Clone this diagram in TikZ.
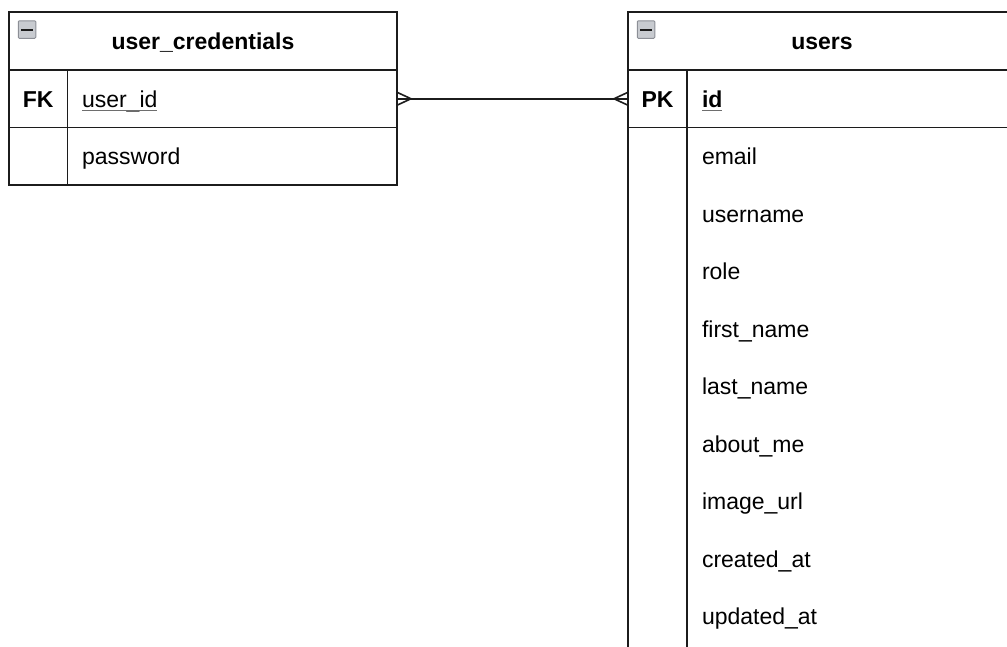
\documentclass[tikz,border=0pt]{standalone}
\usepackage{fontspec}
\setmainfont{Liberation Sans}
\definecolor{ink}{RGB}{28,28,28}
\definecolor{ulgray}{RGB}{110,110,110}
\definecolor{iconfill}{RGB}{200,203,208}
\definecolor{iconedge}{RGB}{140,143,150}
\begin{document}
\begin{tikzpicture}[x=1pt,y=1pt,
  box/.style={draw=ink, line width=1.7pt, rectangle, inner sep=0pt, outer sep=0pt,
              minimum width=388pt, anchor=north west},
  txt/.style={inner sep=0pt, outer sep=0pt, text height=16.7pt, text depth=0pt,
              font=\fontsize{23}{27}\selectfont, text=black},
  keytxt/.style={txt, font=\fontsize{23}{27}\selectfont\bfseries},
  titletxt/.style={txt, font=\fontsize{23}{27}\selectfont\bfseries},
  fieldtxt/.style={txt, anchor=west},
  divider/.style={draw=ink, line width=1.7pt},
  conn/.style={draw=ink, line width=1.6pt},
  ul/.style={draw=ulgray, line width=1.1pt},
  icon/.style={rectangle, draw=iconedge, fill=iconfill, line width=1pt,
               minimum size=17.5pt, inner sep=0pt, rounded corners=1pt},
  iconbar/.style={draw=ink, line width=2pt}]
\useasboundingbox (0,0) rectangle (1007,-646);
\begin{scope}
\clip (0,0) rectangle (1007,-646);

% ---------- table: user_credentials ----------
\node[box, minimum height=58pt] (uc-head) at (9,-12) {};
\node[titletxt] (uc-title) at (uc-head.center) {user\_credentials};
\node[icon] (uc-icon) at ([xshift=18pt,yshift=-17.5pt]uc-head.north west) {};
\draw[iconbar] ([xshift=3.5pt]uc-icon.west) -- ([xshift=-3.5pt]uc-icon.east);

\node[box, minimum height=57.5pt] (uc-r1) at (uc-head.south west) {};
\node[box, minimum height=57.5pt] (uc-r2) at (uc-r1.south west) {};
\draw[divider] ([xshift=58.5pt]uc-r1.north west) -- ([xshift=58.5pt]uc-r2.south west);

\node[keytxt] (uc-k1) at ([xshift=29.25pt]uc-r1.west) {FK};
\node[fieldtxt] (uc-f1) at ([xshift=73pt]uc-r1.west) {user\_id};
\draw[ul] ([yshift=-3pt]uc-f1.south west) -- ([yshift=-3pt]uc-f1.south east);
\node[fieldtxt] (uc-f2) at ([xshift=73pt]uc-r2.west) {password};

% ---------- table: users ----------
\node[box, minimum height=58pt] (us-head) at (628,-12) {};
\node[titletxt] (us-title) at (us-head.center) {users};
\node[icon] (us-icon) at ([xshift=18pt,yshift=-17.5pt]us-head.north west) {};
\draw[iconbar] ([xshift=3.5pt]us-icon.west) -- ([xshift=-3.5pt]us-icon.east);

\node[box, minimum height=57.5pt] (us-r1) at (us-head.south west) {};
\node[box, minimum height=600pt] (us-body) at (us-r1.south west) {};
\draw[divider] ([xshift=59pt]us-r1.north west) -- ([xshift=59pt]us-body.south west);

\node[keytxt] (us-k1) at ([xshift=29.5pt]us-r1.west) {PK};
\node[fieldtxt, font=\fontsize{23}{27}\selectfont\bfseries] (us-f1) at ([xshift=74pt]us-r1.west) {id};
\draw[ul] ([yshift=-3pt]us-f1.south west) -- ([yshift=-3pt]us-f1.south east);

\foreach \name [count=\i] in {email,username,role,first\_name,last\_name,about\_me,image\_url,created\_at,updated\_at}{
  \node[fieldtxt] (us-f\i) at ([xshift=74pt,yshift={-28.75pt-57.5pt*(\i-1)}]us-body.north west) {\name};
}

% ---------- relationship: many-to-many crow's feet ----------
\draw[conn] (uc-r1.east) -- (us-r1.west);
\draw[conn] ([yshift=6.5pt]uc-r1.east) -- ([xshift=14pt]uc-r1.east) -- ([yshift=-6.5pt]uc-r1.east);
\draw[conn] ([yshift=6.5pt]us-r1.west) -- ([xshift=-14pt]us-r1.west) -- ([yshift=-6.5pt]us-r1.west);
\end{scope}
\end{tikzpicture}
\end{document}
